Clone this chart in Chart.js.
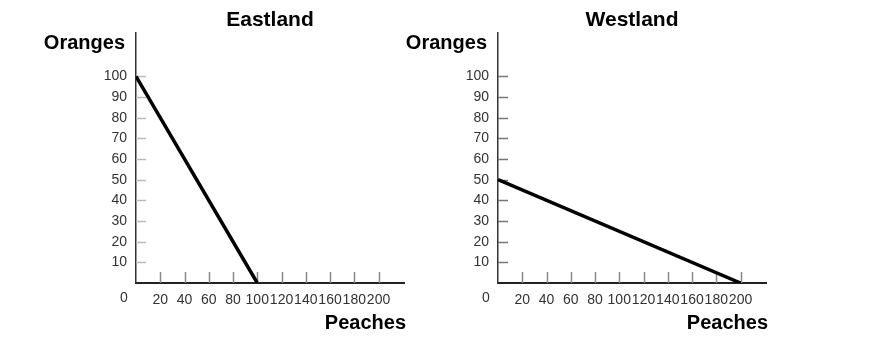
<!DOCTYPE html>
<html>
<head>
<meta charset="utf-8">
<script src="https://cdn.jsdelivr.net/npm/chart.js@4"></script>
<style>
  html, body { margin: 0; padding: 0; background: #fff; }
  #wrap { position: relative; width: 883px; height: 358px; overflow: hidden; }
  canvas { position: absolute; top: 0; }
</style>
</head>
<body>
<div id="wrap">
  <canvas id="east" width="441" height="358" style="left:0"></canvas>
  <canvas id="west" width="483" height="358" style="left:400px"></canvas>
</div>
<script>
// data
const eastPeaches = [0, 100];
const eastOranges = [100, 0];
const westPeaches = [0, 200];
const westOranges = [50, 0];
const xTickValues = [20, 40, 60, 80, 100, 120, 140, 160, 180, 200];
const yTickValues = [10, 20, 30, 40, 50, 60, 70, 80, 90, 100];
const X_MAX = 221;
const Y_MAX = 121;

const FONT = "'Liberation Sans', Arial, sans-serif";

// short tick marks drawn inside the plot, plus the hand placed labels
const decor = {
  id: "decor",
  beforeDatasetsDraw(chart, args, opts) {
    const { ctx, chartArea: a, scales: { x, y } } = chart;
    ctx.save();
    ctx.lineWidth = 1.5;
    ctx.strokeStyle = opts.yTickColor;
    yTickValues.forEach(v => {
      const py = Math.round(y.getPixelForValue(v)) + 0.5;
      ctx.beginPath();
      ctx.moveTo(a.left, py);
      ctx.lineTo(a.left + 10, py);
      ctx.stroke();
    });
    ctx.strokeStyle = opts.xTickColor;
    xTickValues.forEach(v => {
      const px = Math.round(x.getPixelForValue(v)) + 0.5;
      ctx.beginPath();
      ctx.moveTo(px, a.bottom);
      ctx.lineTo(px, a.bottom - 11);
      ctx.stroke();
    });
    ctx.restore();
  },
  afterDraw(chart, args, opts) {
    const { ctx, chartArea: a } = chart;
    ctx.save();
    ctx.fillStyle = "#000";
    ctx.textBaseline = "middle";
    ctx.font = "bold 21px " + FONT;
    ctx.textAlign = "center";
    ctx.fillText(opts.title, (a.left + a.right) / 2, 20);
    ctx.font = "bold 20px " + FONT;
    ctx.textAlign = "right";
    ctx.fillText("Oranges", a.left - 11, 43);
    ctx.fillText("Peaches", a.right + 2, 323);
    ctx.font = "14px " + FONT;
    ctx.fillStyle = "#333";
    ctx.textAlign = "center";
    ctx.fillText("0", a.left - 12, 298);
    ctx.restore();
  }
};

function makeChart(id, peaches, oranges, title, padLeft, padRight, yTickColor) {
  const points = peaches.map((p, i) => ({ x: p, y: oranges[i] }));
  return new Chart(document.getElementById(id), {
    type: "line",
    data: {
      datasets: [{
        data: points,
        borderColor: "#000",
        borderWidth: 3.5,
        pointRadius: 0,
        tension: 0
      }]
    },
    options: {
      responsive: false,
      animation: false,
      layout: { padding: { left: padLeft, right: padRight, top: 33, bottom: 0 } },
      plugins: {
        legend: { display: false },
        tooltip: { enabled: false },
        decor: { title: title, yTickColor: yTickColor, xTickColor: "#888" }
      },
      scales: {
        x: {
          type: "linear",
          min: 0,
          max: X_MAX,
          afterBuildTicks: s => { s.ticks = xTickValues.map(v => ({ value: v })); },
          afterFit: s => { s.height = 75; },
          grid: { display: true, drawOnChartArea: false, drawTicks: false },
          border: { display: true, color: "#222", width: 2 },
          ticks: {
            autoSkip: false, minRotation: 0, maxRotation: 0, padding: 9,
            color: "#333", font: { family: FONT, size: 14 }
          }
        },
        y: {
          type: "linear",
          min: 0,
          max: Y_MAX,
          afterBuildTicks: s => { s.ticks = yTickValues.map(v => ({ value: v })); },
          afterFit: s => { s.width = 36; },
          grid: { display: true, drawOnChartArea: false, drawTicks: false },
          border: { display: true, color: "#333", width: 1.5 },
          ticks: {
            autoSkip: false, padding: 9,
            color: "#333", font: { family: FONT, size: 14 }
          }
        }
      }
    },
    plugins: [decor]
  });
}

makeChart("east", eastPeaches, eastOranges, "Eastland", 100, 37, "#bbb");
makeChart("west", westPeaches, westOranges, "Westland", 62, 117, "#777");
</script>
</body>
</html>
